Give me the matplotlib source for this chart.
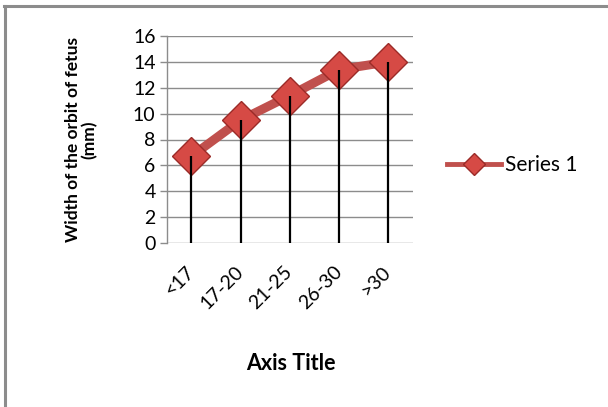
import matplotlib
matplotlib.use("Agg")
import matplotlib.pyplot as plt
from matplotlib.lines import Line2D

categories = ["<17", "17-20", "21-25", "26-30", ">30"]
values = [6.7, 9.5, 11.4, 13.4, 14.0]
series_name = "Series 1"
y_ticks = [0, 2, 4, 6, 8, 10, 12, 14, 16]
y_label = "Width of the orbit of fetus\n(mm)"
x_label = "Axis Title"

plt.rcParams['font.family'] = ['Lato', 'DejaVu Sans']

fig = plt.figure(figsize=(6.08, 4.07), dpi=100)
W, H = 608, 407

# outer chart border (only top and left visible)
fig.add_artist(Line2D([5 / W, 5 / W], [0, 1 - 5.5 / H], transform=fig.transFigure,
                      color="#8c8c8c", linewidth=2.2))
fig.add_artist(Line2D([4 / W, 1], [1 - 5.5 / H, 1 - 5.5 / H], transform=fig.transFigure,
                      color="#8c8c8c", linewidth=2.2))

ax = fig.add_axes([166.7 / W, 1 - 243 / H, (413 - 166.7) / W, (243 - 36) / H])
x = list(range(len(categories)))

ax.set_xlim(-0.5, len(categories) - 0.5)
ax.set_ylim(0, 16)
ax.set_yticks(y_ticks)
ax.set_yticklabels([str(t) for t in y_ticks], fontsize=14)
ax.set_xticks(x)
ax.set_xticklabels(categories, rotation=45, ha="right", va="center", fontsize=14,
                   rotation_mode="anchor")
ax.tick_params(axis="x", length=0, pad=19)
ax.tick_params(axis="y", length=5, width=1, color="#8c8c8c", pad=3)
ax.grid(axis="y", color="#8c8c8c", linewidth=1)
ax.set_axisbelow(True)
for s in ["top", "right", "bottom"]:
    ax.spines[s].set_visible(False)
ax.spines["left"].set_color("#8c8c8c")
ax.spines["left"].set_linewidth(1)

ax.plot(x, values, color="#c0504d", linewidth=6.5, solid_capstyle="round", zorder=3)
ax.plot(x, values, linestyle="none", marker="D", markersize=19,
        markerfacecolor="#d64a45", markeredgecolor="#9b2b28", markeredgewidth=1, zorder=4)
ax.vlines(x, 0, values, color="black", linewidth=1.6, zorder=5)

ax.set_ylabel(y_label, fontsize=12.5, fontweight="bold", linespacing=1.0)
ax.yaxis.set_label_coords(-0.28, 0.5)
fig.text(291 / W, 1 - 363 / H, x_label, fontsize=15.5, fontweight="bold", ha="center", va="center")

handle = Line2D([0], [0], color="#c0504d", linewidth=3.5, marker="D", markersize=11,
                markerfacecolor="#d64a45", markeredgecolor="#9b2b28")
fig.legend([handle], [series_name], loc="center left", bbox_to_anchor=(428 / W, 1 - 165 / H),
           frameon=False, fontsize=15, handlelength=2.6, handletextpad=0.2)

fig.savefig("out.png", dpi=100, facecolor="white")
